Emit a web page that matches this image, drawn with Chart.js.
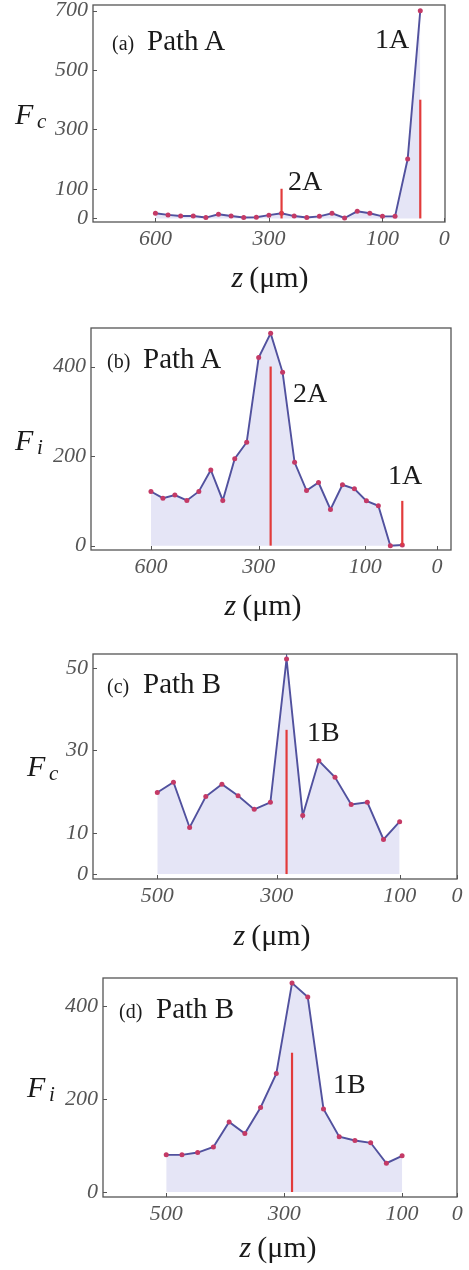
<!DOCTYPE html>
<html>
<head>
<meta charset="utf-8">
<script src="https://cdn.jsdelivr.net/npm/chart.js@4.4.1/dist/chart.umd.min.js"></script>
<style>
  html, body { margin: 0; padding: 0; background: #fff; }
  body { width: 469px; height: 1270px; position: relative; overflow: hidden; }
  .panel { position: absolute; left: 0; width: 469px; }
  .lbl { position: absolute; font-family: "Liberation Serif", "Times New Roman", serif; color: #1a1a1a; line-height: 1; white-space: nowrap; }
</style>
</head>
<body>
<script>
// sample values (points are evenly spaced along z)
const fcA = [17.5, 12, 8.4, 8.4, 3, 14, 8, 3, 4, 11, 17.5, 8, 3, 7, 17.5, 1.5, 24, 17.5, 7, 7, 200, 700];
const fiA = [121, 106, 113, 101, 121, 169, 101, 194, 231, 420, 474, 387, 186, 123, 141, 81, 136, 127, 100, 89, 0, 1.5];
const fcB = [19.8, 22.3, 11.3, 18.8, 21.8, 19.0, 15.7, 17.4, 52.2, 14.2, 27.5, 23.5, 16.9, 17.4, 8.4, 12.7];
const fiB = [80, 80, 85, 97, 151, 126, 182, 255, 450, 420, 179, 119, 111, 106, 62, 78];

// z tick labels and where they sit (in sample-index units)
const zLabelsA = ['600', '300', '100', '0'];
const zLabelsB = ['500', '300', '100', '0'];
const zTicksFcA = [0, 9, 18, 22.9];
const zTicksFiA = [0, 9, 17.9, 23.9];
const zTicksFcB = [0, 7.4, 15, 18.55];
const zTicksFiB = [0, 7.5, 15, 18.5];

// y ticks
const yTicksFcA = [0, 100, 300, 500, 700];
const yTicksFiA = [0, 200, 400];
const yTicksFcB = [0, 10, 30, 50];
const yTicksFiB = [0, 200, 400];

// red markers: sample index and height
const markFcA = [[10, 100], [21, 400]];
const markFiA = [[10, 400], [21, 100]];
const markFcB = [[8, 35]];
const markFiB = [[8, 300]];

const SERIF = '"Liberation Serif", "Times New Roman", serif';
const GREY = '#555';

const panels = [
  { top: 0, height: 300, yw: 93, xh: 78, pad: { top: 5, right: 24 },
    x: [-4.95, 22.96], y: [-12, 719], values: fcA, zTicks: zTicksFcA, zLabels: zLabelsA, yTicks: yTicksFcA, marks: markFcA },
  { top: 320, height: 310, yw: 91, xh: 80, pad: { top: 8, right: 18 },
    x: [-5.01, 25.07], y: [-9.7, 486], values: fiA, zTicks: zTicksFiA, zLabels: zLabelsA, yTicks: yTicksFiA, marks: markFiA },
  { top: 650, height: 310, yw: 93, xh: 81, pad: { top: 4, right: 12 },
    x: [-3.98, 18.55], y: [-1.2, 53.4], values: fcB, zTicks: zTicksFcB, zLabels: zLabelsB, yTicks: yTicksFcB, marks: markFcB },
  { top: 960, height: 310, yw: 103, xh: 73, pad: { top: 18, right: 12 },
    x: [-4.02, 18.49], y: [-10.8, 461], values: fiB, zTicks: zTicksFiB, zLabels: zLabelsB, yTicks: yTicksFiB, marks: markFiB }
];

// frame box + short inward ticks
const framePlugin = {
  id: 'frame',
  afterDraw(chart) {
    const { ctx, chartArea: a, scales } = chart;
    ctx.save();
    ctx.strokeStyle = GREY;
    ctx.lineWidth = 1.3;
    ctx.strokeRect(a.left, a.top, a.right - a.left, a.bottom - a.top);
    ctx.lineWidth = 1;
    ctx.beginPath();
    scales.x.ticks.forEach(t => {
      const px = Math.round(scales.x.getPixelForValue(t.value)) + 0.5;
      ctx.moveTo(px, a.bottom);
      ctx.lineTo(px, a.bottom - 4);
    });
    scales.y.ticks.forEach(t => {
      const py = Math.round(scales.y.getPixelForValue(t.value)) + 0.5;
      ctx.moveTo(a.left, py);
      ctx.lineTo(a.left + 4, py);
    });
    ctx.stroke();
    ctx.restore();
  }
};

panels.forEach(p => {
  const div = document.createElement('div');
  div.className = 'panel';
  div.style.top = p.top + 'px';
  div.style.height = p.height + 'px';
  const cv = document.createElement('canvas');
  cv.width = 469;
  cv.height = p.height;
  div.appendChild(cv);
  document.body.appendChild(div);

  const datasets = p.marks.map(m => ({
    data: [{ x: m[0], y: 0 }, { x: m[0], y: m[1] }],
    borderColor: '#e23b3b',
    borderWidth: 2.2,
    pointRadius: 0,
    fill: false,
    order: 0
  }));
  datasets.push({
    data: p.values.map((v, i) => ({ x: i, y: v })),
    borderColor: '#51519e',
    borderWidth: 1.9,
    backgroundColor: 'rgba(208, 208, 238, 0.55)',
    fill: 'origin',
    tension: 0,
    pointRadius: 2.5,
    pointBorderWidth: 0,
    pointBackgroundColor: '#c43a66',
    order: 1
  });

  new Chart(cv.getContext('2d'), {
    type: 'line',
    data: { datasets },
    options: {
      responsive: false,
      animation: false,
      events: [],
      layout: { padding: { top: p.pad.top, right: p.pad.right, left: 0, bottom: 0 } },
      plugins: { legend: { display: false }, tooltip: { enabled: false } },
      scales: {
        x: {
          type: 'linear',
          min: p.x[0], max: p.x[1],
          afterFit: s => { s.height = p.xh; s.paddingLeft = 0; s.paddingRight = 0; },
          afterBuildTicks: s => { s.ticks = p.zTicks.map(v => ({ value: v })); },
          grid: { display: false, drawTicks: false },
          border: { display: false },
          ticks: {
            autoSkip: false, maxRotation: 0, padding: 4, color: GREY,
            font: { family: SERIF, size: 22, style: 'italic' },
            callback: (v, i) => p.zLabels[i]
          }
        },
        y: {
          type: 'linear',
          min: p.y[0], max: p.y[1],
          afterFit: s => { s.width = p.yw; s.paddingTop = 0; s.paddingBottom = 0; },
          afterBuildTicks: s => { s.ticks = p.yTicks.map(v => ({ value: v })); },
          grid: { display: false, drawTicks: false },
          border: { display: false },
          ticks: {
            autoSkip: false, padding: 5, color: GREY,
            font: { family: SERIF, size: 22, style: 'italic' },
            callback: v => String(v)
          }
        }
      }
    },
    plugins: [framePlugin]
  });
});

// text labels placed by baseline
function put(html, x, base, size, opts) {
  opts = opts || {};
  const el = document.createElement('div');
  el.className = 'lbl';
  el.innerHTML = html;
  el.style.fontSize = size + 'px';
  if (opts.italic) el.style.fontStyle = 'italic';
  el.style.top = (base - 0.8375 * size) + 'px';
  document.body.appendChild(el);
  if (opts.center) {
    el.style.left = (x - el.offsetWidth / 2) + 'px';
  } else {
    el.style.left = x + 'px';
  }
  return el;
}

function yTitle(sub, x, base) {
  put('F', x, base, 30, { italic: true });
  put(sub, x + 22, base + 5, 21, { italic: true });
}
function zTitle(cx, base) {
  put('<i>z</i>&thinsp;(μm)', cx, base, 30, { center: true });
}

// (a)
put('(a)', 112, 50, 20); put('Path A', 147, 50, 29);
put('1A', 375, 48, 28); put('2A', 288, 190, 28);
yTitle('c', 15, 124); zTitle(270, 287);
// (b)
put('(b)', 107, 368, 20); put('Path A', 143, 368, 29);
put('2A', 293, 402, 28); put('1A', 388, 484, 28);
yTitle('i', 15, 450); zTitle(263, 615);
// (c)
put('(c)', 107, 693, 20); put('Path B', 143, 693, 29);
put('1B', 307, 741, 28);
yTitle('c', 27, 776); zTitle(272, 945);
// (d)
put('(d)', 119, 1018, 20); put('Path B', 156, 1018, 29);
put('1B', 333, 1093, 28);
yTitle('i', 27, 1097); zTitle(278, 1257);
</script>
</body>
</html>
